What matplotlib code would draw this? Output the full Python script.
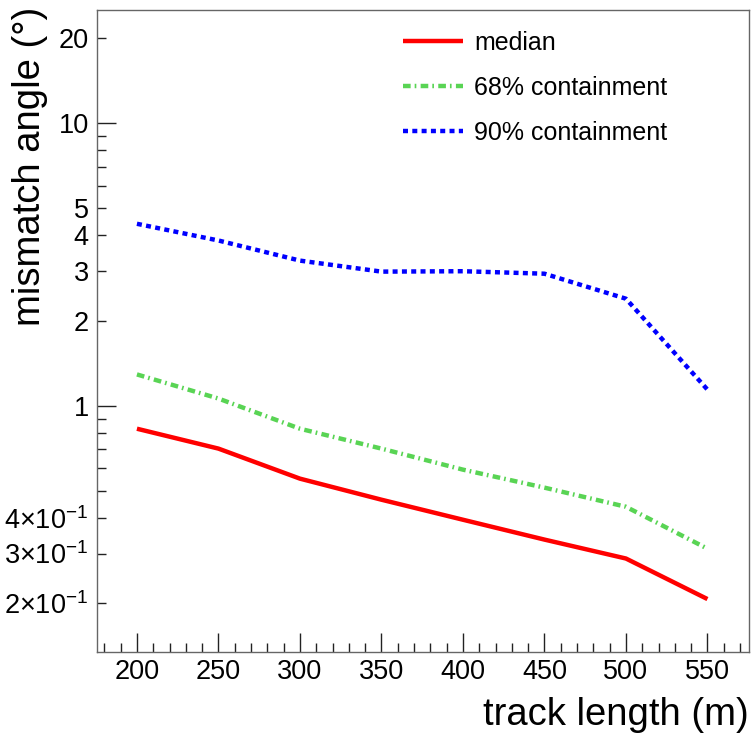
import matplotlib
matplotlib.use("Agg")
import matplotlib.pyplot as plt
from matplotlib.ticker import FixedLocator, FuncFormatter, MultipleLocator, NullFormatter

plt.rcParams['font.family'] = ['Liberation Sans', 'DejaVu Sans']
plt.rcParams['mathtext.fontset'] = 'custom'
plt.rcParams['mathtext.rm'] = 'Liberation Sans'
plt.rcParams['mathtext.it'] = 'Liberation Sans:italic'
plt.rcParams['lines.scale_dashes'] = False

# Data
track_length = [200, 250, 300, 350, 400, 450, 500, 550]
median = [0.829, 0.705, 0.552, 0.465, 0.395, 0.336, 0.288, 0.207]
containment_68 = [1.29, 1.06, 0.829, 0.705, 0.594, 0.513, 0.439, 0.312]
containment_90 = [4.40, 3.84, 3.26, 2.98, 2.99, 2.93, 2.39, 1.14]

series_labels = ["median", "68% containment", "90% containment"]

# decade ticks (long) and the in-between ticks (short)
ydecade_values = [1, 10]
ysmall_values = [0.2, 0.3, 0.4, 0.5, 0.6, 0.7, 0.8, 0.9, 2, 3, 4, 5, 6, 7, 8, 9, 20]
ytick_text = {
    0.2: r"$\mathregular{2{\times}10^{-1}}$",
    0.3: r"$\mathregular{3{\times}10^{-1}}$",
    0.4: r"$\mathregular{4{\times}10^{-1}}$",
    1: "1", 2: "2", 3: "3", 4: "4", 5: "5", 10: "10", 20: "20",
}


def y_label(v, pos):
    for k, s in ytick_text.items():
        if abs(v - k) < 1e-6 * k:
            return s
    return ""


fig = plt.figure(figsize=(7.52, 7.35), dpi=100)
ax = fig.add_axes([97 / 752, 83 / 735, 652 / 752, 642 / 735])

ax.plot(track_length, median, color='#ff0000', lw=3.2, solid_capstyle='butt',
        label=series_labels[0])
ax.plot(track_length, containment_68, color='#59d454', lw=3.2,
        linestyle=(0, (5.5, 2.9, 1.2, 3.1)), dash_capstyle='butt',
        label=series_labels[1])
ax.plot(track_length, containment_90, color='#0000ff', lw=3.2,
        linestyle=(0, (3.6, 3.1)), dash_capstyle='butt',
        label=series_labels[2])

ax.set_yscale('log')
ax.set_xlim(175.5, 575.5)
ax.set_ylim(0.1345, 25.1)

ax.yaxis.set_major_locator(FixedLocator(ydecade_values))
ax.yaxis.set_major_formatter(FuncFormatter(y_label))
ax.yaxis.set_minor_locator(FixedLocator(ysmall_values))
ax.yaxis.set_minor_formatter(FuncFormatter(y_label))

ax.xaxis.set_major_locator(MultipleLocator(50))
ax.xaxis.set_minor_locator(MultipleLocator(10))
ax.xaxis.set_minor_formatter(NullFormatter())

ax.tick_params(which='both', direction='in', top=False, right=False,
               color='#222222', width=1.0, labelsize=19.5)
ax.tick_params(axis='x', which='major', length=13.5, pad=5)
ax.tick_params(axis='x', which='minor', length=6.7)
ax.tick_params(axis='y', which='major', length=13.7, pad=6)
ax.tick_params(axis='y', which='minor', length=6.7, pad=6)

for s in ax.spines.values():
    s.set_color('#666666')
    s.set_linewidth(1.0)

ax.set_xlabel("track length (m)", fontsize=27.5, ha='right', va='baseline')
ax.xaxis.set_label_coords(1.0, -0.114)
ax.set_ylabel("mismatch angle (°)", fontsize=27.5, ha='right', va='baseline')
ax.yaxis.set_label_coords(-0.087, 1.005)

ax.legend(loc='upper left', bbox_to_anchor=(0.469, 0.967), frameon=False,
          fontsize=18, handlelength=2.4, handletextpad=0.45,
          labelspacing=0.83, borderpad=0, borderaxespad=0)

fig.savefig("out.png", dpi=100)
